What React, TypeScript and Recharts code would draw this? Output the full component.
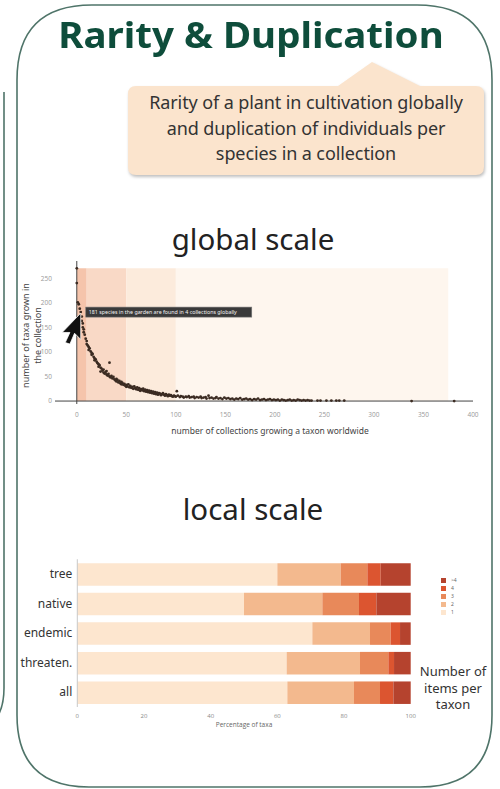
import React from 'react';
import {
  ScatterChart, Scatter, XAxis, YAxis, ReferenceArea, ReferenceLine, ReferenceDot,
  BarChart, Bar, CartesianGrid,
} from 'recharts';

// global scale: [collections worldwide, taxa in the collection]
const globalPoints: [number, number][] = [
  [0, 270], [0, 240], [1, 201], [2, 197], [3, 188], [4, 181], [5, 172], [5, 163], [6, 158], [6, 150],
  [7, 146], [7, 140], [8, 135], [9, 127], [10, 122], [10, 116], [11, 113], [12, 110], [12, 104], [13, 107],
  [14, 101], [15, 98], [15, 94], [16, 96], [17, 90], [18, 87], [18, 83], [19, 85], [20, 80], [21, 77],
  [22, 75], [22, 70], [23, 73], [24, 68], [24, 60], [25, 66], [26, 62], [27, 64], [27, 58], [28, 56],
  [29, 59], [30, 54], [30, 61], [31, 52], [32, 55], [33, 78], [33, 50], [34, 48], [35, 51], [36, 46],
  [37, 49], [38, 44], [39, 42], [40, 45], [40, 40], [41, 43], [42, 38], [43, 41], [44, 36], [45, 39],
  [45, 34], [46, 37], [47, 33], [48, 35], [49, 31], [50, 33], [50, 29], [51, 30], [52, 34], [53, 28],
  [54, 31], [55, 27], [56, 29], [57, 25], [58, 30], [59, 26], [60, 24], [61, 28], [62, 23], [63, 26],
  [64, 21], [65, 24], [66, 22], [67, 25], [68, 20], [69, 23], [70, 19], [71, 22], [72, 18], [73, 21],
  [74, 17], [75, 20], [76, 16], [77, 19], [78, 15], [79, 18], [80, 14], [81, 17], [82, 13], [83, 16],
  [84, 15], [85, 12], [86, 14], [87, 16], [88, 13], [89, 11], [90, 14], [91, 12], [92, 10], [93, 13],
  [94, 11], [95, 12], [96, 10], [97, 9], [98, 11], [99, 10], [100, 9], [101, 20], [102, 11], [104, 8],
  [105, 10], [107, 9], [108, 7], [110, 9], [111, 8], [113, 10], [114, 7], [116, 8], [118, 9], [119, 6],
  [121, 8], [123, 7], [125, 9], [126, 6], [128, 7], [130, 8], [131, 5], [133, 11], [134, 6], [136, 7],
  [138, 5], [140, 6], [141, 8], [143, 5], [145, 6], [147, 4], [149, 7], [151, 5], [153, 6], [155, 4],
  [157, 5], [159, 3], [161, 5], [163, 4], [165, 6], [167, 3], [169, 4], [171, 5], [173, 3], [175, 4],
  [177, 2], [179, 4], [181, 3], [183, 5], [185, 2], [187, 3], [189, 4], [191, 2], [193, 3], [195, 4],
  [197, 2], [199, 3], [201, 2], [203, 3], [205, 1], [207, 3], [209, 2], [211, 1], [213, 2], [215, 3],
  [217, 1], [219, 2], [221, 1], [223, 3], [225, 2], [227, 1], [229, 2], [231, 1], [233, 2], [235, 1],
  [237, 1], [243, 1], [246, 1], [252, 1], [257, 1], [262, 1], [265, 1], [270, 1], [338, 0], [381, 0],
];
const globalTicksX = [0, 50, 100, 150, 200, 250, 300, 350, 400];
const globalTicksY = [0, 50, 100, 150, 200, 250];
// shaded rarity bands on the global plot
const bandEdges = [0, 10, 50, 100, 375];
const bandColors = ['#f5c4ab', '#f9d9c6', '#fcebdc', '#fef6ee'];

// local scale: percentage of taxa by number of items per taxon
const categories = ['tree', 'native', 'endemic', 'threaten.', 'all'];
const items1 = [60, 50, 70.5, 62.8, 63];
const items2 = [19, 23.5, 17.3, 22, 20];
const items3 = [8, 11, 6.2, 8.5, 7.8];
const items4 = [4, 5.2, 2.8, 1.7, 4];
const itemsMore = [9, 10.3, 3.2, 5, 5.2];
const seriesKeys = ['1', '2', '3', '4', '>4'];
const seriesColors = ['#fde6cf', '#f3b98e', '#e8895a', '#dc5530', '#b5432e'];
const percentTicks = [0, 20, 40, 60, 80, 100];

const scatterData = globalPoints.map(([x, y]) => ({ x, y }));
const barData = categories.map((name, i) => ({
  name,
  '1': items1[i],
  '2': items2[i],
  '3': items3[i],
  '4': items4[i],
  '>4': itemsMore[i],
}));

const SANS = '"Noto Sans", "Open Sans", sans-serif';

const Dot = (p: any) => <circle cx={p.cx} cy={p.cy} r={1.4} fill="#3b2b22" />;

const Annotation = (p: any) => {
  const { cx, cy } = p;
  return (
    <g>
      <rect x={cx + 5} y={cy - 5} width={166} height={10} fill="#3a3a3a" stroke="#777" strokeWidth={0.6} />
      <text x={cx + 8} y={cy + 2} fontSize={5.3} fill="#f4f4f4" fontFamily={SANS}>
        181 species in the garden are found in 4 collections globally
      </text>
      <g transform={`translate(${cx},${cy + 1}) scale(-1.55,1.55)`}>
        <polygon
          points="0,0 0,17 4,13 7,20 10,19 7,12.5 12,12.5"
          fill="#111"
          stroke="#fff"
          strokeWidth={0.5}
        />
      </g>
    </g>
  );
};

export default function App() {
  return (
    <div
      style={{
        position: 'absolute', left: 0, top: 0, width: 500, height: 789,
        background: '#fff', overflow: 'hidden', fontFamily: SANS,
      }}
    >
      <svg width={500} height={789} style={{ position: 'absolute', left: 0, top: 0 }}>
        <path
          d="M 17 80 Q 17 5 92 5 L 417 5 Q 492 5 492 80 L 492 715 Q 492 787 420 787 L 89 787 Q 17 787 17 715 Z"
          fill="none" stroke="#4f7469" strokeWidth={1.6}
        />
        <path d="M 4 92 L 4 688 Q 4 728 -30 735" fill="none" stroke="#4f7469" strokeWidth={1.6} />
        <g style={{ filter: 'drop-shadow(1px 2px 1.5px rgba(0,0,0,0.25))' }}>
          <path
            d="M 136 86 L 338 86 L 372 62 L 420 86 L 476 86 Q 484 86 484 94 L 484 167 Q 484 175 476 175 L 136 175 Q 128 175 128 167 L 128 94 Q 128 86 136 86 Z"
            fill="#fbe4cd"
          />
        </g>
      </svg>

      <div style={{ position: 'absolute', left: 0, top: 15, width: 502, textAlign: 'center', fontSize: 35, fontWeight: 700, color: '#0e4d3b', lineHeight: '40px', transform: 'scaleX(1.1)' }}>
        Rarity &amp; Duplication
      </div>
      <div style={{ position: 'absolute', left: 128, top: 90, width: 356, textAlign: 'center', fontSize: 18, color: '#333', lineHeight: '25.5px', letterSpacing: -0.1 }}>
        Rarity of a plant in cultivation globally<br />
        and duplication of individuals per<br />
        species in a collection
      </div>

      <div style={{ position: 'absolute', left: 0, top: 219, width: 506, textAlign: 'center', fontSize: 29.5, color: '#222', lineHeight: '40px' }}>
        global scale
      </div>

      <div style={{ position: 'absolute', left: 0, top: 250 }}>
        <ScatterChart width={500} height={200} margin={{ top: 11, right: 27, bottom: 16, left: 30 }}>
          {bandColors.map((c, i) => (
            <ReferenceArea key={i} x1={bandEdges[i]} x2={bandEdges[i + 1]} y1={0} y2={270} fill={c} fillOpacity={1} stroke="none" />
          ))}
          <CartesianGrid horizontal={false} stroke="#ffffff" strokeOpacity={0.5} />
          <XAxis
            type="number" dataKey="x" domain={[-22, 400]} ticks={globalTicksX} interval={0}
            axisLine={false} tickLine={false} tickSize={0} tickMargin={8} height={30}
            tick={{ fontSize: 6.5, fill: '#999', fontFamily: '"Open Sans", sans-serif' }}
          />
          <YAxis
            type="number" dataKey="y" domain={[-6, 285]} ticks={globalTicksY} interval={0}
            axisLine={false} tickLine={false} tickSize={0} tickMargin={3} width={25}
            tick={{ fontSize: 6.5, fill: '#999', fontFamily: '"Open Sans", sans-serif' }}
          />
          <ReferenceLine y={0} stroke="#444" strokeWidth={1} />
          <ReferenceLine x={0} stroke="#444" strokeWidth={1} />
          <Scatter data={scatterData} shape={Dot} isAnimationActive={false} />
          <ReferenceDot x={4} y={181} shape={Annotation} />
        </ScatterChart>
      </div>
      <div style={{ position: 'absolute', left: 10, top: 336, width: 0, height: 0 }}>
        <div style={{ position: 'absolute', left: -100, top: -12, width: 200, textAlign: 'center', transform: 'translate(21px,0) rotate(-90deg)', fontSize: 9, color: '#444', lineHeight: '11.5px' }}>
          number of taxa grown in<br />the collection
        </div>
      </div>
      <div style={{ position: 'absolute', left: 65, top: 425, width: 410, textAlign: 'center', fontSize: 8.5, color: '#444' }}>
        number of collections growing a taxon worldwide
      </div>

      <div style={{ position: 'absolute', left: 0, top: 489, width: 506, textAlign: 'center', fontSize: 29.5, color: '#222', lineHeight: '40px' }}>
        local scale
      </div>

      <div style={{ position: 'absolute', left: 0, top: 540 }}>
        <BarChart
          width={500} height={200} layout="vertical" data={barData}
          margin={{ top: 19.25, right: 89.3, bottom: 13, left: 7.3 }}
        >
          <XAxis
            type="number" domain={[0, 100]} ticks={percentTicks} interval={0}
            axisLine={false} tickLine={false} tickSize={0} tickMargin={7} height={20}
            tick={{ fontSize: 6, fill: '#888', fontFamily: '"Open Sans", sans-serif' }}
          />
          <YAxis
            type="category" dataKey="name" width={70} interval={0}
            axisLine={{ stroke: '#c8c8c8' }} tickLine={false} tickSize={0} tickMargin={5}
            tick={{ fontSize: 12, fill: '#333', fontFamily: SANS }}
          />
          {seriesKeys.map((k, i) => (
            <Bar key={k} dataKey={k} stackId="a" fill={seriesColors[i]} barSize={22.5} isAnimationActive={false} />
          ))}
        </BarChart>
      </div>
      <div style={{ position: 'absolute', left: 441, top: 576, fontFamily: SANS, fontSize: 5, color: '#666' }}>
        {seriesKeys.slice().reverse().map((k, i) => (
          <div key={k} style={{ display: 'flex', alignItems: 'center', height: 8 }}>
            <span style={{ width: 5, height: 5, background: seriesColors[seriesKeys.length - 1 - i], display: 'inline-block', marginRight: 5 }} />
            <span>{k}</span>
          </div>
        ))}
      </div>
      <div style={{ position: 'absolute', left: 77, top: 720, width: 334, textAlign: 'center', fontSize: 6.5, color: '#666', fontFamily: '"Open Sans", sans-serif' }}>
        Percentage of taxa
      </div>
      <div style={{ position: 'absolute', left: 413, top: 663, width: 80, textAlign: 'center', fontSize: 13, color: '#333', lineHeight: '16.5px' }}>
        Number of<br />items per<br />taxon
      </div>
    </div>
  );
}
